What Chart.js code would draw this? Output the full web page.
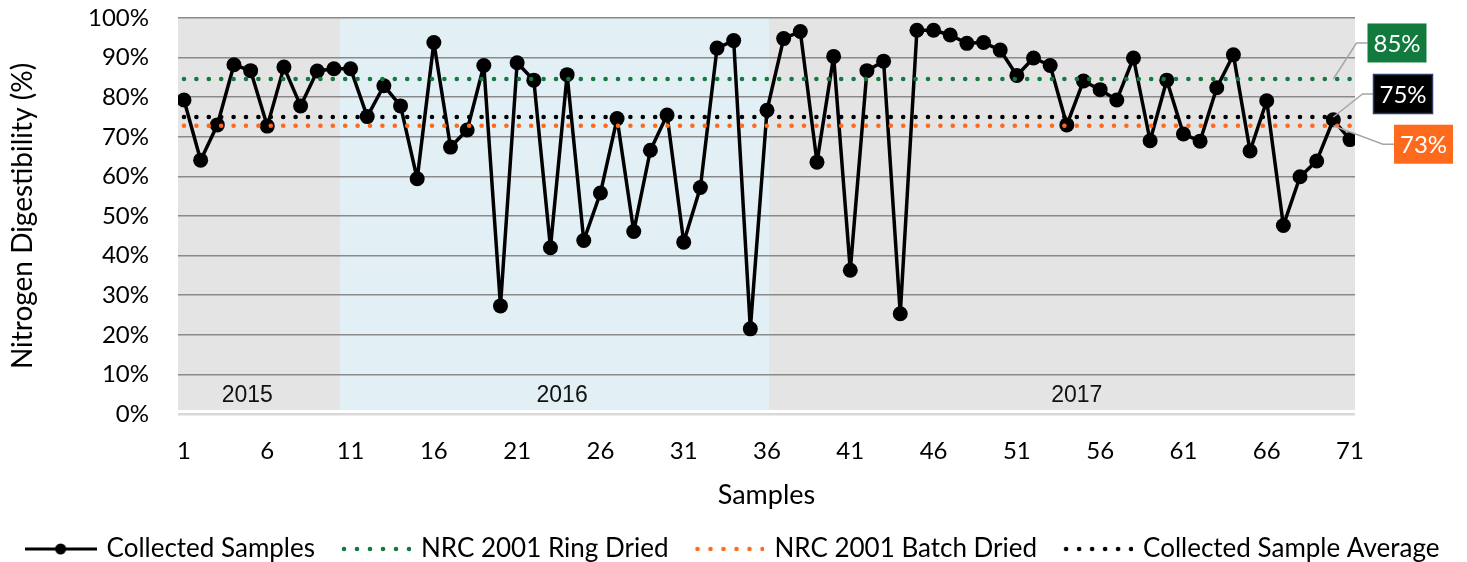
<!DOCTYPE html>
<html>
<head>
<meta charset="utf-8">
<script src="https://cdn.jsdelivr.net/npm/chart.js@4.4.1/dist/chart.umd.min.js"></script>
<style>
  html, body { margin: 0; padding: 0; background: #fff; }
  #wrap { width: 1467px; height: 562px; }
</style>
</head>
<body>
<div id="wrap"><canvas id="chart"></canvas></div>
<script>
// nitrogen digestibility of each collected sample, in %
const collected = [
  79.3, 64.1, 73.0, 88.2, 86.7, 72.7, 87.6, 77.8, 86.6, 87.2,
  87.2, 75.1, 82.9, 77.8, 59.4, 93.8, 67.4, 71.7, 88.0, 27.3,
  88.7, 84.3, 42.0, 85.7, 43.8, 55.8, 74.6, 46.1, 66.6, 75.5,
  43.4, 57.2, 92.4, 94.3, 21.5, 76.7, 94.8, 96.6, 63.6, 90.3,
  36.3, 86.7, 89.1, 25.3, 96.9, 96.9, 95.7, 93.6, 93.8, 91.9,
  85.5, 89.9, 88.0, 73.0, 84.1, 81.9, 79.3, 89.9, 69.0, 84.3,
  70.7, 68.9, 82.4, 90.7, 66.4, 79.1, 47.6, 59.9, 63.9, 74.3, 69.3
];

// reference lines
const refNames = ['NRC 2001 Ring Dried', 'NRC 2001 Batch Dried', 'Collected Sample Average'];
const refValues = [84.6, 72.8, 75.0];
const refSpan = [1, 71];
const refLabelAt = 70;

const xTicks = [1, 6, 11, 16, 21, 26, 31, 36, 41, 46, 51, 56, 61, 66, 71];
const xRange = [0.64, 71.3];

// year bands (in sample units) and where their labels sit
const years = ['2015', '2016', '2017'];
const yearBounds = [0.64, 10.37, 36.12, 71.3];
const yearLabelAt = [4.8, 23.7, 54.6];

const FONT = 'Lato';
const refColors = ['#117a3d', '#fd6a1c', '#000000'];
const bandColors = ['#e4e4e4', '#e2f0f6', '#e4e4e4'];

const points = collected.map((v, i) => ({ x: i + 1, y: v }));

// draw the year bands behind the grid
const yearBands = {
  id: 'yearBands',
  beforeDraw(chart) {
    const { ctx, chartArea, scales } = chart;
    const x = scales.x;
    ctx.save();
    years.forEach((yr, i) => {
      const x0 = x.getPixelForValue(yearBounds[i]);
      const x1 = x.getPixelForValue(yearBounds[i + 1]);
      ctx.fillStyle = bandColors[i];
      ctx.fillRect(x0, chartArea.top, x1 - x0, chartArea.bottom - chartArea.top - 4);
    });
    ctx.restore();
  },
  beforeDatasetsDraw(chart) {
    const { ctx, scales } = chart;
    ctx.save();
    ctx.font = '23px "Liberation Sans Narrow", "Liberation Sans", sans-serif';
    ctx.fillStyle = '#111';
    ctx.textAlign = 'center';
    ctx.textBaseline = 'middle';
    const y = scales.y.getPixelForValue(0) - 18;
    years.forEach((yr, i) => {
      ctx.fillText(yr, scales.x.getPixelForValue(yearLabelAt[i]), y);
    });
    ctx.restore();
  }
};

// value callouts for the reference lines, at the right of the plot
const callouts = {
  id: 'callouts',
  afterDatasetsDraw(chart) {
    const { ctx, chartArea, scales } = chart;
    const boxes = [
      { dx: 42, dy: -36, border: null },
      { dx: 68.5, dy: 18.5, border: null },
      { dx: 48, dy: -23, border: '#2e3d66' }
    ];
    const w = 59, h = 39;
    ctx.save();
    refValues.forEach((v, i) => {
      const ax = scales.x.getPixelForValue(refLabelAt);
      const ay = scales.y.getPixelForValue(v);
      const cx = chartArea.right + boxes[i].dx;
      const cy = ay + boxes[i].dy;
      const left = cx - w / 2;

      ctx.strokeStyle = '#a6a6a6';
      ctx.lineWidth = 1.5;
      ctx.beginPath();
      ctx.moveTo(ax, ay);
      ctx.lineTo(left - 11, cy);
      ctx.lineTo(left, cy);
      ctx.stroke();

      ctx.fillStyle = refColors[i];
      ctx.fillRect(left, cy - h / 2, w, h);
      if (boxes[i].border) {
        ctx.strokeStyle = boxes[i].border;
        ctx.lineWidth = 1.5;
        ctx.strokeRect(left, cy - h / 2, w, h);
      }
      ctx.fillStyle = '#fff';
      ctx.font = '24px ' + FONT;
      ctx.textAlign = 'center';
      ctx.textBaseline = 'middle';
      ctx.fillText(Math.round(v) + '%', cx, cy + 1);
    });
    ctx.restore();
  }
};

// little canvases used as legend markers
function lineMarker() {
  const c = document.createElement('canvas');
  c.width = 72; c.height = 16;
  const g = c.getContext('2d');
  g.strokeStyle = '#000';
  g.lineWidth = 3;
  g.beginPath(); g.moveTo(0, 8); g.lineTo(72, 8); g.stroke();
  g.fillStyle = '#000';
  g.beginPath(); g.arc(36, 8, 5.5, 0, Math.PI * 2); g.fill();
  return c;
}
function dotMarker(color) {
  const c = document.createElement('canvas');
  c.width = 72; c.height = 10;
  const g = c.getContext('2d');
  g.fillStyle = color;
  for (let i = 0; i < 6; i++) {
    g.beginPath(); g.arc(5 + i * 13, 5, 2.3, 0, Math.PI * 2); g.fill();
  }
  return c;
}

const datasets = [
  {
    label: 'Collected Samples',
    data: points,
    borderColor: '#000',
    backgroundColor: '#000',
    borderWidth: 3.5,
    borderJoinStyle: 'round',
    pointRadius: 7.5,
    pointHoverRadius: 7.5,
    pointBorderWidth: 0,
    tension: 0,
    order: 4
  }
];
refNames.forEach((name, i) => {
  datasets.push({
    label: name,
    data: refSpan.map(s => ({ x: s, y: refValues[i] })),
    borderColor: refColors[i],
    borderWidth: 4.6,
    borderDash: [0, 12.4],
    borderCapStyle: 'round',
    pointRadius: 0,
    order: i + 1
  });
});

new Chart(document.getElementById('chart'), {
  type: 'line',
  data: { datasets },
  options: {
    responsive: true,
    maintainAspectRatio: false,
    animation: false,
    // negative sides give the one-row legend a little more room than the canvas
    layout: { padding: { top: 18, right: -20, left: -20, bottom: -10 } },
    plugins: {
      tooltip: { enabled: false },
      legend: {
        position: 'bottom',
        labels: {
          usePointStyle: true,
          pointStyleWidth: 66,
          padding: 27,
          color: '#000',
          font: { family: FONT, size: 26 },
          generateLabels: (chart) => chart.data.datasets.map((ds, i) => ({
            text: ds.label,
            datasetIndex: i,
            pointStyle: i === 0 ? lineMarker() : dotMarker(ds.borderColor),
            fillStyle: ds.borderColor,
            strokeStyle: ds.borderColor,
            lineWidth: 0,
            hidden: false
          }))
        }
      }
    },
    scales: {
      x: {
        type: 'linear',
        min: xRange[0],
        max: xRange[1],
        afterBuildTicks: (scale) => { scale.ticks = xTicks.map(v => ({ value: v })); },
        afterFit: (scale) => { scale.height = 95; },
        grid: { display: false, drawTicks: false },
        border: { display: false },
        ticks: {
          autoSkip: false,
          maxRotation: 0,
          padding: 23,
          color: '#000',
          font: { family: FONT, size: 24 }
        },
        title: {
          display: true,
          text: 'Samples',
          color: '#000',
          font: { family: FONT, size: 27 },
          padding: { top: 0, bottom: -2 }
        }
      },
      y: {
        min: 0,
        max: 100,
        afterFit: (scale) => { scale.width = 198; },
        grid: {
          color: (c) => c.tick && c.tick.value === 0 ? '#d9d9d9' : '#8a8a8a',
          lineWidth: (c) => c.tick && c.tick.value === 0 ? 2.5 : 1.5,
          tickLength: 29,
          tickColor: 'transparent'
        },
        border: { display: false },
        ticks: {
          stepSize: 10,
          autoSkip: false,
          padding: 0,
          color: '#000',
          font: { family: FONT, size: 24 },
          callback: (v) => v + '%'
        },
        title: {
          display: true,
          text: 'Nitrogen Digestibility (%)',
          color: '#000',
          font: { family: FONT, size: 28 },
          padding: { top: 26, bottom: 0 }
        }
      },
      // empty right-hand axis that only reserves room for the callouts
      yRight: {
        position: 'right',
        min: 0,
        max: 100,
        afterFit: (scale) => { scale.width = 132; },
        grid: { display: false, drawTicks: false },
        border: { display: false },
        ticks: { display: false }
      }
    }
  },
  plugins: [yearBands, callouts]
});
</script>
</body>
</html>
